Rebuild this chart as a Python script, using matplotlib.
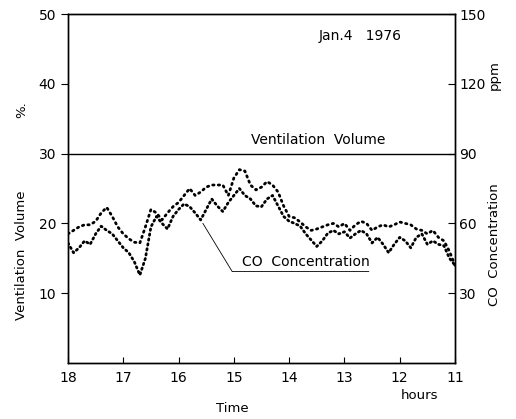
import numpy as np
import matplotlib
matplotlib.use("Agg")
from matplotlib import pyplot as plt

# time in hours (axis runs backwards from 18 to 11)
hours = np.round(np.arange(18.0, 10.95, -0.1), 1)

seriesUpper = [18.5, 19.0, 19.5, 19.8, 19.8, 20.3, 21.5, 22.3, 21.0, 19.5,
               18.5, 17.8, 17.3, 17.2, 19.5, 22.0, 21.5, 20.5, 21.5, 22.4,
               23.0, 24.0, 25.0, 24.0, 24.5, 25.2, 25.5, 25.5, 25.5, 24.0,
               26.5, 27.7, 27.5, 25.5, 24.8, 25.2, 26.0, 25.5, 24.5, 22.5,
               21.0, 20.8, 20.2, 19.5, 19.0, 19.2, 19.5, 19.8, 20.0, 19.5,
               20.0, 19.0, 19.8, 20.3, 20.0, 19.0, 19.5, 19.8, 19.5, 19.8,
               20.2, 20.0, 19.8, 19.2, 19.0, 18.5, 19.0, 18.0, 17.5, 16.0,
               14.0]

seriesLower = [17.2, 15.8, 16.5, 17.5, 17.0, 18.5, 19.6, 19.0, 18.5, 17.5,
               16.5, 15.8, 14.5, 12.6, 15.0, 19.5, 21.0, 20.0, 19.2, 21.0,
               22.0, 22.8, 22.4, 21.5, 20.5, 22.0, 23.5, 22.5, 21.7, 23.0,
               24.0, 25.0, 24.0, 23.5, 22.5, 22.4, 23.5, 24.0, 22.5, 21.0,
               20.3, 20.0, 19.6, 18.5, 17.6, 16.7, 17.5, 18.6, 19.0, 18.5,
               18.8, 17.9, 18.5, 19.0, 18.5, 17.2, 18.0, 17.0, 15.8, 17.0,
               18.0, 17.5, 16.5, 18.0, 18.5, 17.0, 17.5, 17.0, 16.8, 15.0,
               14.0]

ventilationLevel = 30
leftTicks = [10, 20, 30, 40, 50]
rightTicks = [30, 60, 90, 120, 150]
timeTicks = [18, 17, 16, 15, 14, 13, 12, 11]

plt.rcParams['font.family'] = ['DejaVu Sans']

fig = plt.figure(figsize=(5.16, 4.19), dpi=100)
ax = fig.add_axes([68 / 516, 1 - 363 / 419, 387 / 516, 349 / 419])

ax.plot(hours, seriesUpper, color='black', linestyle=(0, (0.5, 1.5)),
        linewidth=2.0, dash_capstyle='round')
ax.plot(hours, seriesLower, color='black', linestyle=(0, (0.5, 1.3)),
        linewidth=2.0, dash_capstyle='round')
ax.axhline(ventilationLevel, color='black', linewidth=1.0)

ax.set_xlim(18, 11)
ax.set_ylim(0, 50)
ax.set_xticks(timeTicks)
ax.set_xticklabels([str(t) for t in timeTicks])
ax.set_yticks(leftTicks)
ax.tick_params(axis='x', direction='in', length=4, labelsize=10, pad=6)
ax.tick_params(axis='y', direction='out', length=5, labelsize=10)

ax2 = ax.twinx()
ax2.set_ylim(0, 150)
ax2.set_yticks(rightTicks)
ax2.tick_params(axis='y', direction='in', length=5, labelsize=10, pad=3)

for a in (ax, ax2):
    for s in a.spines.values():
        s.set_linewidth(1.0)

ax.text(13.48, 31.0, "Ventilation  Volume", fontsize=10, ha='center', va='bottom')
ax.text(12.72, 46.8, "Jan.4   1976", fontsize=10, ha='center', va='center')

# leader line for the CO label
ax.plot([15.56, 15.03, 12.56], [20.0, 13.1, 13.1], color='black', linewidth=0.6)
ax.text(14.86, 13.5, "CO  Concentration", fontsize=10, ha='left', va='bottom')

fig.text(22 / 516, 1 - 110 / 419, "%.", rotation=90, fontsize=9.5,
         ha='center', va='center')
fig.text(22 / 516, 1 - 255 / 419, "Ventilation  Volume", rotation=90,
         fontsize=9.5, ha='center', va='center')
fig.text(494 / 516, 1 - 75 / 419, "ppm", rotation=90, fontsize=9.5,
         ha='center', va='center')
fig.text(494 / 516, 1 - 245 / 419, "CO  Concentration", rotation=90,
         fontsize=9.5, ha='center', va='center')
fig.text(232 / 516, 1 - 408 / 419, "Time", fontsize=9.5, ha='center', va='center')
fig.text(420 / 516, 1 - 395 / 419, "hours", fontsize=9.5, ha='center', va='center')

fig.savefig("out.png", dpi=100)
